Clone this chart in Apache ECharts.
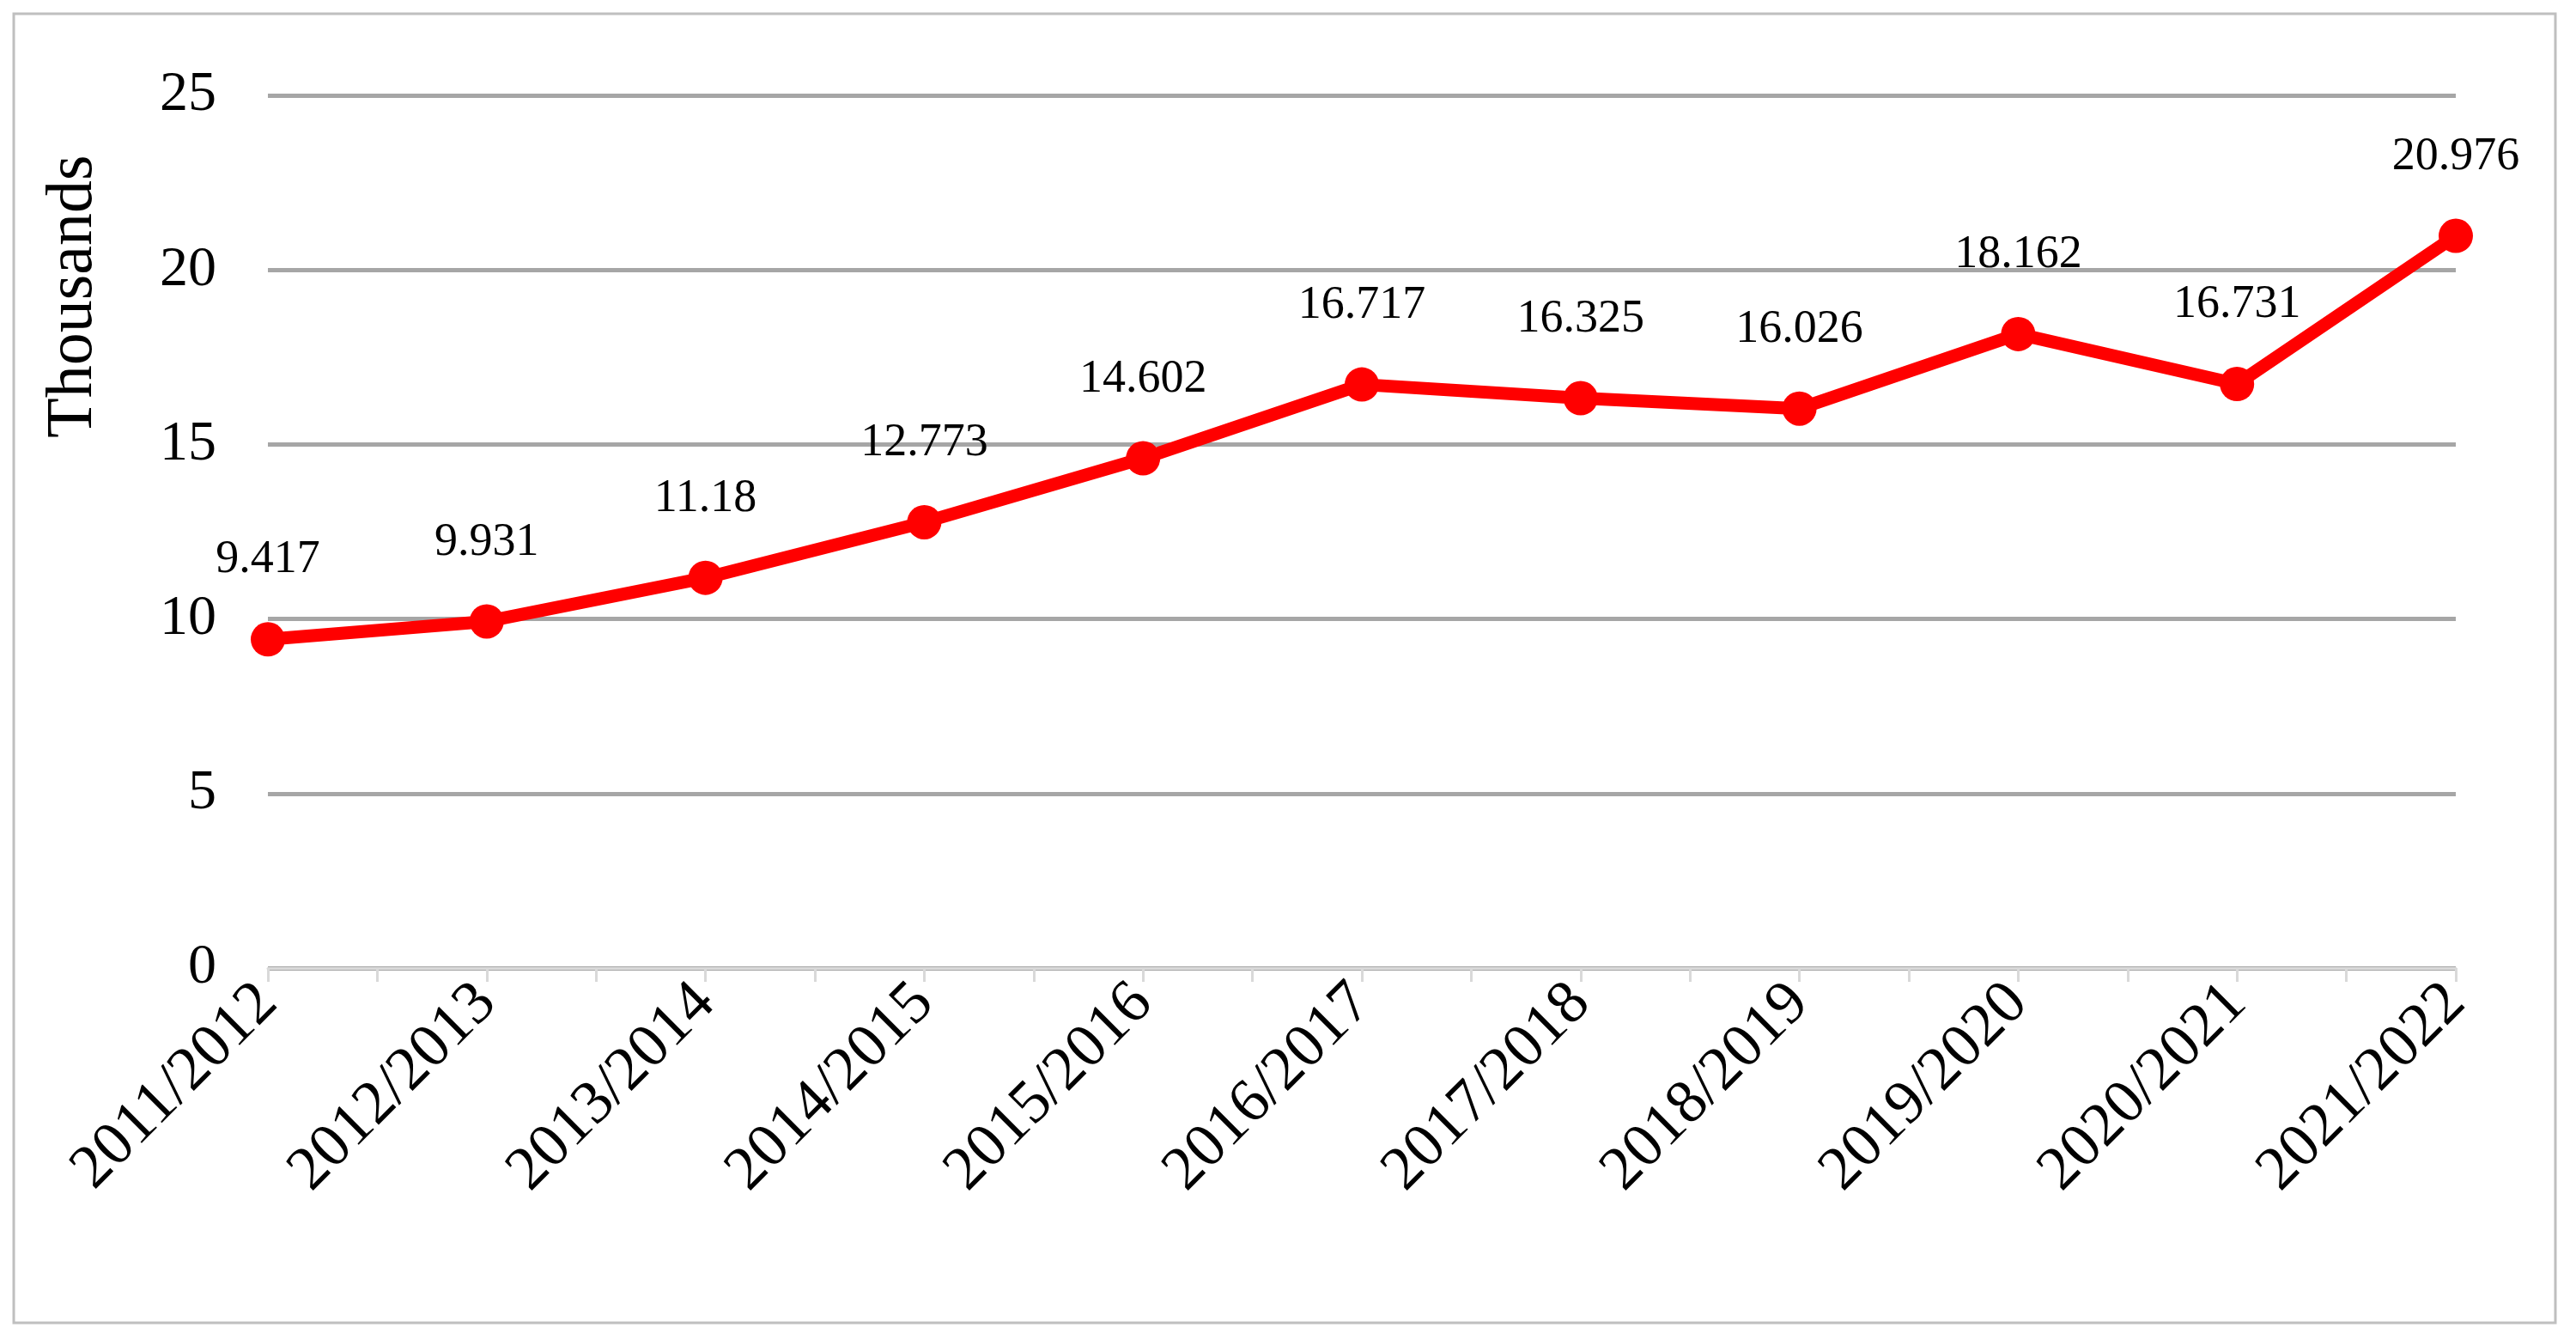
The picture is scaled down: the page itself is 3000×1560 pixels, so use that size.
<!DOCTYPE html>
<html><head><meta charset="utf-8">
<script src="https://cdn.jsdelivr.net/npm/echarts@6/dist/echarts.min.js"></script>
<style>html,body{margin:0;background:#fff}#c{width:3000px;height:1560px}</style>
</head><body><div id="c"></div>
<script>
const categories = ["2011/2012","2012/2013","2013/2014","2014/2015","2015/2016","2016/2017","2017/2018","2018/2019","2019/2020","2020/2021","2021/2022"];
const values = [9.417, 9.931, 11.18, 12.773, 14.602, 16.717, 16.325, 16.026, 18.162, 16.731, 20.976];
const yTicks = [0, 5, 10, 15, 20, 25];
const font = '"Liberation Serif", "DejaVu Serif", serif';
const chart = echarts.init(document.getElementById('c'));
chart.setOption({
  animation: false,
  graphic: [
    {type:'rect', shape:{x:16,y:16,width:2960,height:1524}, style:{fill:'none', stroke:'#bfbfbf', lineWidth:3}},
    {type:'text', x:86, y:345, rotation:Math.PI/2, style:{text:'Thousands', fontFamily:font, fontSize:76, fill:'#000', align:'center', verticalAlign:'middle'}}
  ],
  grid: {left: 312, right: 140, top: 111, bottom: 433},
  xAxis: [{
    type: 'category', data: categories, boundaryGap: false,
    axisLine: {lineStyle: {color: '#d9d9d9', width: 3}},
    axisTick: {show: false},
    axisLabel: {rotate: 45, fontFamily: font, fontSize: 72, color: '#000', margin: 30}
  }, {
    type: 'value', min: 0, max: 10, interval: 0.5, position: 'bottom',
    axisLine: {show: false}, axisLabel: {show: false}, splitLine: {show: false},
    axisTick: {show: true, length: 16, lineStyle: {color: '#d9d9d9', width: 3}}
  }],
  yAxis: {
    type: 'value', min: yTicks[0], max: yTicks[yTicks.length-1], interval: 5,
    axisLine: {show: false}, axisTick: {show: false},
    axisLabel: {fontFamily: font, fontSize: 66, color: '#000', margin: 60},
    splitLine: {lineStyle: {color: '#a6a6a6', width: 5}}
  },
  series: [{
    type: 'line', data: values, xAxisIndex: 0,
    lineStyle: {color: '#ff0000', width: 15},
    itemStyle: {color: '#ff0000'},
    symbol: 'circle', symbolSize: 40,
    label: {show: true, position: 'top', distance: 45, fontFamily: font, fontSize: 54, color: '#000',
      formatter: p => String(values[p.dataIndex])}
  }]
});
</script></body></html>
